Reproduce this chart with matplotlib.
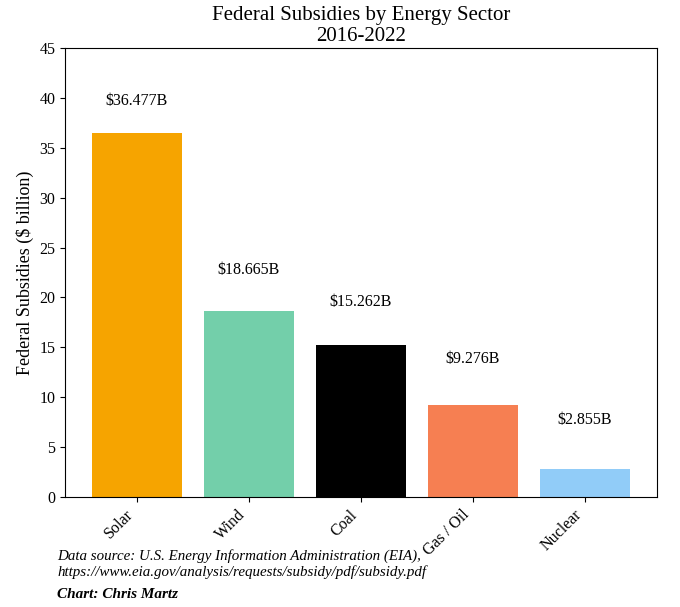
import matplotlib
matplotlib.use("Agg")
import matplotlib.pyplot as plt

categories = ["Solar", "Wind", "Coal", "Gas / Oil", "Nuclear"]
values = [36.477, 18.665, 15.262, 9.276, 2.855]
bar_labels = ["$36.477B", "$18.665B", "$15.262B", "$9.276B", "$2.855B"]
colors = ["#F6A400", "#73CFAA", "#000000", "#F67F52", "#91CCF8"]
yticks = [0, 5, 10, 15, 20, 25, 30, 35, 40, 45]

plt.rcParams["font.family"] = ["Liberation Serif", "DejaVu Serif"]

fig = plt.figure(figsize=(6.8, 6.07), dpi=100)
ax = fig.add_axes([0.0956, 0.181, 0.870, 0.740])

x = list(range(len(categories)))
ax.bar(x, values, width=0.8, color=colors)
for xi, v, lab in zip(x, values, bar_labels):
    ax.text(xi, 0.95 * v + 5, lab, ha="center", va="center", fontsize=11.5)

ax.set_ylim(0, 45)
ax.set_yticks(yticks)
ax.set_xticks(x)
ax.set_xticklabels(categories, rotation=45, ha="right", fontsize=11.5)
ax.tick_params(axis="y", labelsize=11.5)
ax.set_ylabel("Federal Subsidies ($ billion)", fontsize=13)
ax.set_title("Federal Subsidies by Energy Sector\n2016-2022", fontsize=15, linespacing=1.15, pad=5)

fig.text(0.084, 0.084, "Data source: U.S. Energy Information Administration (EIA),",
         fontsize=10.8, style="italic", va="center")
fig.text(0.084, 0.057, "https://www.eia.gov/analysis/requests/subsidy/pdf/subsidy.pdf",
         fontsize=10.8, style="italic", va="center")
fig.text(0.084, 0.020, "Chart: Chris Martz", fontsize=11, style="italic",
         fontweight="bold", va="center")

fig.savefig("out.png", dpi=100)
